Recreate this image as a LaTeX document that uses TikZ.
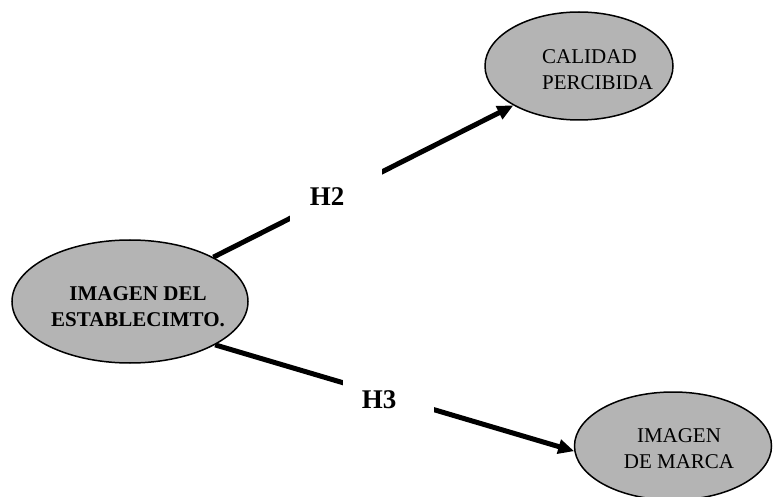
\documentclass[tikz,border=0pt]{standalone}
\usepackage{fontspec}
\setmainfont{Liberation Serif}
\usetikzlibrary{shapes.geometric,arrows.meta}
\pgfdeclarelayer{bg}
\pgfdeclarelayer{paper}
\pgfsetlayers{paper,bg,main}
\definecolor{ellgray}{RGB}{180,180,180}
\tikzset{
  ell/.style={ellipse, draw=black, line width=1.5pt, fill=ellgray, inner sep=0pt},
  elltext/.style={inner sep=0pt, font=\fontsize{21}{26}\selectfont},
  conn/.style={line width=5pt, -{Triangle[length=16pt,width=14pt]}},
  gapbox/.style={fill=white, draw=none, inner sep=0pt},
  hyp/.style={inner sep=0pt, font=\fontsize{27}{32}\selectfont\bfseries}
}
\begin{document}
\begin{tikzpicture}[x=1pt,y=-1pt]
\useasboundingbox (0,0) rectangle (774,497);
\begin{pgfonlayer}{paper}
\fill[white] (0,0) rectangle (774,497);
\end{pgfonlayer}
% ellipses
\node[ell, minimum width=236pt, minimum height=123pt] (a) at (130,301.5) {};
\node[ell, minimum width=188pt, minimum height=108pt] (b) at (579,66) {};
\node[ell, minimum width=197pt, minimum height=108pt] (c) at (673,446) {};
% texts
\node[elltext, align=center, font=\fontsize{21}{26}\selectfont\bfseries] (ta) at (138,307) {IMAGEN DEL\\ESTABLECIMTO.};
\node[elltext, align=left, anchor=west] (tb) at (542,69.5) {CALIDAD\\PERCIBIDA};
\node[elltext, align=center] (tc) at (679,448.5) {IMAGEN\\DE MARCA};
% connectors
\begin{pgfonlayer}{bg}
\draw[conn] (a.28.5) -- (b.211.4);
\draw[conn] (a.-27.9) -- (c.183.5);
\end{pgfonlayer}
% gaps and labels
\node[gapbox, minimum width=92pt, minimum height=60pt] (g2) at (336,195) {};
\node[gapbox, minimum width=91pt, minimum height=50pt] (g3) at (388.5,397) {};
\node[hyp] (h2) at (327,197) {H2};
\node[hyp] (h3) at (379,400) {H3};
\end{tikzpicture}
\end{document}
